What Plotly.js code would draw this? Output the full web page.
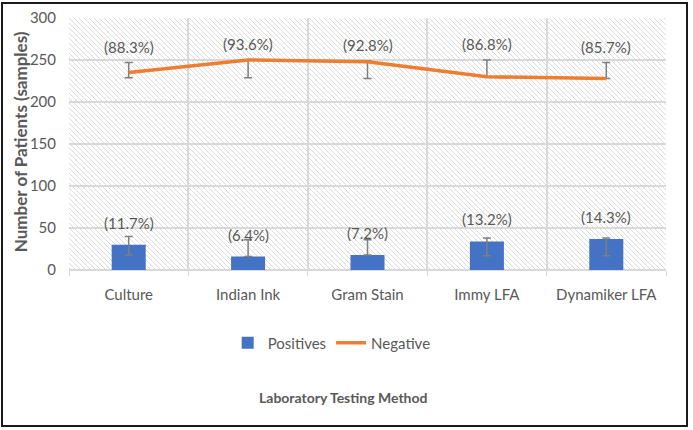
<!DOCTYPE html>
<html>
<head>
<meta charset="utf-8">
<script src="https://cdn.plot.ly/plotly-3.0.1.min.js"></script>
<style>
  body { margin: 0; background: #fff; }
  #chart { width: 693px; height: 430px; }
  #frame { position: absolute; left: 1px; top: 2px; width: 683px; height: 421px;
           border: 2px solid #1a1a1a; pointer-events: none; }
</style>
</head>
<body>
<div id="chart"></div>
<div id="frame"></div>
<script>
const methods = ['Culture', 'Indian Ink', 'Gram Stain', 'Immy LFA', 'Dynamiker LFA'];
const positives = [30, 16, 18, 34, 37];
const negatives = [235, 250, 248, 230, 228];
const posLabels = ['(11.7%)', '(6.4%)', '(7.2%)', '(13.2%)', '(14.3%)'];
const negLabels = ['(88.3%)', '(93.6%)', '(92.8%)', '(86.8%)', '(85.7%)'];
const posErrUp = [10, 20, 18, 4, 1];
const posErrDown = [12, 0, 0, 17, 20];
const negErrUp = [12, 0, 1, 20, 19];
const negErrDown = [6, 21, 20, 0, 0];

const textFont = 'Lato, sans-serif';
const grey = '#595959';

const hatch = '<svg xmlns="http://www.w3.org/2000/svg" width="597" height="252">' +
  '<defs><pattern id="h" width="5" height="5" patternUnits="userSpaceOnUse">' +
  '<path d="M-1,-1 L6,6 M-1,4 L1,6 M4,-1 L6,1" stroke="#dcdcdc" stroke-width="1"/>' +
  '</pattern></defs><rect width="597" height="252" fill="#fff"/>' +
  '<rect width="597" height="252" fill="url(#h)"/></svg>';

const bars = {
    x: methods,
    y: positives,
    type: 'bar',
    name: 'Positives',
    marker: {color: '#4472C4'},
    error_y: {type: 'data', symmetric: false, array: posErrUp, arrayminus: posErrDown,
              color: '#7f7f7f', thickness: 1.5, width: 4}
};
const line = {
    x: methods,
    y: negatives,
    type: 'scatter',
    mode: 'lines',
    name: 'Negative',
    line: {color: '#ED7D31', width: 3.5},
    error_y: {type: 'data', symmetric: false, array: negErrUp, arrayminus: negErrDown,
              color: '#7f7f7f', thickness: 1.5, width: 4}
};

let annotations = [];
methods.forEach((m, i) => {
    annotations.push({x: m, y: positives[i], text: posLabels[i], showarrow: false,
        yanchor: 'bottom', yshift: 11, font: {family: textFont, size: 15, color: grey}});
    annotations.push({x: m, y: negatives[i] + negErrUp[i], text: negLabels[i], showarrow: false,
        yanchor: 'bottom', yshift: 5, font: {family: textFont, size: 15, color: grey}});
});
annotations.push({xref: 'paper', yref: 'paper', x: 0.459, y: -0.504, xanchor: 'center', yanchor: 'middle',
    text: '<b>Laboratory Testing Method</b>',
    showarrow: false, font: {family: textFont, size: 14, color: grey}});
annotations.push({xref: 'paper', yref: 'paper', x: -0.08, y: 0.508, xanchor: 'center', yanchor: 'middle',
    textangle: -90, text: '<b>Number of Patients (samples)</b>',
    showarrow: false, font: {family: textFont, size: 17, color: grey}});

const layout = {
    width: 693,
    height: 430,
    margin: {l: 69, r: 27, t: 18, b: 160},
    paper_bgcolor: '#fff',
    plot_bgcolor: 'rgba(0,0,0,0)',
    font: {family: textFont, size: 15, color: grey},
    bargap: 0.715,
    showlegend: true,
    legend: {orientation: 'h', x: 0.44, xanchor: 'center', y: -0.29, yanchor: 'middle',
             font: {family: textFont, size: 15, color: grey}},
    xaxis: {tickson: 'boundaries', showgrid: true, gridcolor: '#d9d9d9', gridwidth: 1.5,
            ticks: 'outside', ticklen: 5, tickcolor: '#d9d9d9', showline: false,
            ticklabelstandoff: 14, zeroline: false, tickfont: {size: 15}, fixedrange: true},
    yaxis: {range: [0, 300], dtick: 50, showgrid: true, gridcolor: '#d9d9d9', gridwidth: 1.5,
            zeroline: true, zerolinecolor: '#d9d9d9', zerolinewidth: 1.5,
            showline: false, ticklabelstandoff: 12, tickfont: {size: 15}, fixedrange: true},
    images: [{source: 'data:image/svg+xml;utf8,' + encodeURIComponent(hatch),
              xref: 'paper', yref: 'paper', x: 0, y: 1, sizex: 1, sizey: 1,
              xanchor: 'left', yanchor: 'top', sizing: 'stretch', layer: 'below'}],
    annotations: annotations
};

Plotly.newPlot('chart', [bars, line], layout, {displayModeBar: false});
</script>
</body>
</html>
